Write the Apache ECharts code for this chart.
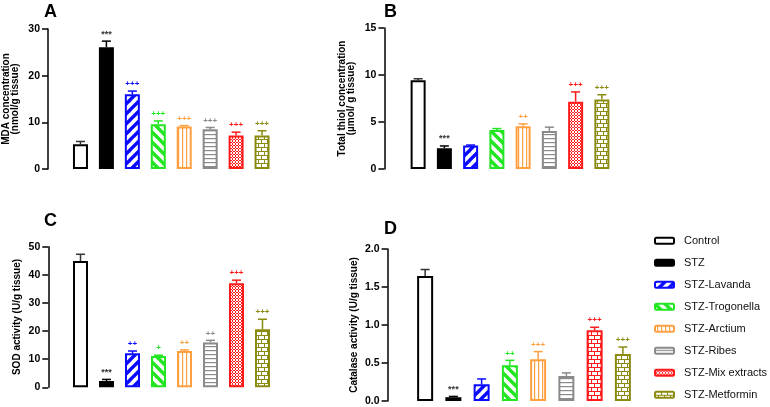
<!DOCTYPE html>
<html>
<head>
<meta charset="utf-8">
<script src="https://cdn.jsdelivr.net/npm/echarts@6/dist/echarts.min.js"></script>
<style>html,body{margin:0;padding:0;background:#fff}#c{width:770px;height:407px}</style>
</head>
<body>
<div id="c"></div>
<script>
// ---- data ----
const groups = ['Control','STZ','STZ-Lavanda','STZ-Trogonella','STZ-Arctium','STZ-Ribes','STZ-Mix extracts','STZ-Metformin'];

const mdaMean  = [5.3, 26.1, 16.0, 9.6, 9.1, 8.5, 7.2, 7.2];
const mdaSem   = [0.6, 1.3, 0.7, 0.7, 0.2, 0.4, 0.7, 1.0];
const mdaSig   = ['', '***', '+++', '+++', '+++', '+++', '+++', '+++'];

const thiolMean = [9.45, 2.2, 2.5, 4.15, 4.55, 4.05, 7.15, 7.4];
const thiolSem  = [0.15, 0.25, 0.05, 0.15, 0.25, 0.4, 1.05, 0.5];
const thiolSig  = ['', '***', '', '', '++', '', '+++', '+++'];

const sodMean = [44.9, 2.2, 12.1, 11.1, 12.9, 15.9, 37.0, 20.6];
const sodSem  = [2.4, 0.6, 0.8, 0.3, 0.4, 0.8, 1.1, 3.6];
const sodSig  = ['', '***', '++', '+', '++', '++', '+++', '+++'];

const catMean = [1.645, 0.05, 0.22, 0.47, 0.55, 0.33, 0.93, 0.62];
const catSem  = [0.085, 0.01, 0.07, 0.065, 0.1, 0.04, 0.04, 0.09];
const catSig  = ['', '***', '', '++', '+++', '', '+++', '+++'];

const yTicksA = [0, 30, 10];
const yTicksB = [0, 15, 5];
const yTicksC = [0, 50, 10];
const yTicksD = [0, 2, 0.5];

// ---- styles ----
const colors = ['#000000','#000000','#0a0aff','#22e622','#ffa040','#8a8a8a','#ff1a1a','#8b8b10'];
const errColors = ['#333333','#000000','#0a0aff','#22e622','#ffa040','#8a8a8a','#ff1a1a','#8b8b10'];
const FONT = 'Liberation Sans, Arial, sans-serif';

function makePattern(type, color) {
  const c = document.createElement('canvas');
  let ctx;
  if (type === 'fwd' || type === 'back') {
    const n = 10;
    c.width = n; c.height = n; ctx = c.getContext('2d');
    ctx.fillStyle = '#fff'; ctx.fillRect(0,0,n,n);
    ctx.strokeStyle = color; ctx.lineWidth = 3.4;
    const segs = type === 'fwd'
      ? [[-n/2,n/2,n/2,-n/2],[0,n,n,0],[n/2,1.5*n,1.5*n,n/2]]
      : [[-n/2,n/2,n/2,1.5*n],[0,0,n,n],[n/2,-n/2,1.5*n,n/2]];
    segs.forEach(s => { ctx.beginPath(); ctx.moveTo(s[0],s[1]); ctx.lineTo(s[2],s[3]); ctx.stroke(); });
  } else if (type === 'vert') {
    c.width = 4.5; c.height = 2; ctx = c.getContext('2d');
    ctx.fillStyle = '#fff'; ctx.fillRect(0,0,5,2);
    ctx.fillStyle = color; ctx.fillRect(2,0,1.2,2);
  } else if (type === 'horiz') {
    c.width = 2; c.height = 4.5; ctx = c.getContext('2d');
    ctx.fillStyle = '#fff'; ctx.fillRect(0,0,2,5);
    ctx.fillStyle = color; ctx.fillRect(0,2,2,1.2);
  } else if (type === 'dots') {
    c.width = 3; c.height = 3; ctx = c.getContext('2d');
    ctx.fillStyle = '#fff'; ctx.fillRect(0,0,3,3);
    ctx.fillStyle = color;
    ctx.fillRect(1,0,1,1); ctx.fillRect(0,1,1,1); ctx.fillRect(2,1,1,1); ctx.fillRect(1,2,1,1);
  } else if (type === 'brick') {
    c.width = 6; c.height = 8; ctx = c.getContext('2d');
    ctx.fillStyle = '#fff'; ctx.fillRect(0,0,6,8);
    ctx.fillStyle = color;
    ctx.fillRect(0,3,6,1); ctx.fillRect(0,7,6,1);
    ctx.fillRect(0,0,1,3); ctx.fillRect(3,4,1,3);
  }
  return { image: c, repeat: 'repeat' };
}

function fills(mixType) {
  return [
    '#ffffff',
    '#000000',
    makePattern('fwd', colors[2]),
    makePattern('back', colors[3]),
    makePattern('vert', colors[4]),
    makePattern('horiz', colors[5]),
    makePattern(mixType, colors[6]),
    makePattern('brick', colors[7])
  ];
}

const panels = [
  { mean: mdaMean, sem: mdaSem, sig: mdaSig, ticks: yTicksA, mix: 'dots',
    grid: {left: 67.5, top: 29, width: 207.5, height: 140}, offset: 19.5, barW: 15,
    name: 'MDA concentration\n(nmol/g tissue)', nameGap: 28.5, dec: 0 },
  { mean: thiolMean, sem: thiolSem, sig: thiolSig, ticks: yTicksB, mix: 'dots',
    grid: {left: 405, top: 28, width: 210, height: 141}, offset: 20.6, barW: 15,
    name: 'Total thiol concentration\n(µmol/ g tissue)', nameGap: 29, dec: 0 },
  { mean: sodMean, sem: sodSem, sig: sodSig, ticks: yTicksC, mix: 'dots',
    grid: {left: 67.5, top: 246.7, width: 208, height: 140.6}, offset: 19.2, barW: 15,
    name: 'SOD activity (U/g tissue)', nameGap: 27, dec: 0 },
  { mean: catMean, sem: catSem, sig: catSig, ticks: yTicksD, mix: 'brick',
    grid: {left: 411, top: 249, width: 226, height: 152}, offset: 23.4, barW: 16,
    name: 'Catalase activity (U/g tissue)', nameGap: 29.3, dec: 1 }
];

const grid = [], xAxis = [], yAxis = [], series = [];
panels.forEach((p, k) => {
  grid.push(Object.assign({ containLabel: false, outerBoundsMode: 'none' }, p.grid));
  xAxis.push({ gridIndex: k, type: 'category', data: groups, boundaryGap: true,
    axisLine: {show: false}, axisTick: {show: false}, axisLabel: {show: false}, splitLine: {show: false} });
  yAxis.push({ gridIndex: k, type: 'value', min: p.ticks[0], max: p.ticks[1], interval: p.ticks[2],
    offset: p.offset,
    axisLine: {show: true, lineStyle: {color: '#000', width: 1.5}},
    axisTick: {show: true, length: 6, lineStyle: {color: '#000', width: 1.5}},
    axisLabel: {color: '#000', fontWeight: 'bold', fontSize: 10.5, fontFamily: FONT, margin: 8,
      formatter: v => v.toFixed(p.dec)},
    splitLine: {show: false},
    name: p.name, nameLocation: 'middle', nameRotate: 90, nameGap: p.nameGap,
    nameTextStyle: {color: '#000', fontWeight: 'bold', fontSize: 10, fontFamily: FONT, lineHeight: 9} });
  const f = fills(p.mix);
  groups.forEach((g, i) => {
    series.push({
      type: 'bar', name: g, xAxisIndex: k, yAxisIndex: k,
      barWidth: p.barW, barGap: '-100%',
      itemStyle: { color: f[i], borderColor: colors[i], borderWidth: 2 },
      emphasis: {disabled: true},
      data: groups.map((_, j) => j === i ? p.mean[i] : '-'),
      z: 2
    });
  });
  series.push({
    type: 'custom', name: 'err' + k, xAxisIndex: k, yAxisIndex: k, z: 5,
    encode: {x: 0, y: 1},
    data: groups.map((_, i) => [i, p.mean[i], p.sem[i]]),
    renderItem: (params, api) => {
      const i = api.value(0), m = api.value(1), s = api.value(2);
      const p0 = api.coord([i, m]), p1 = api.coord([i, m + s]);
      const col = errColors[i];
      const children = [
        {type: 'line', shape: {x1: p0[0], y1: p0[1], x2: p1[0], y2: p1[1]}, style: {stroke: col, lineWidth: 1.5}},
        {type: 'line', shape: {x1: p1[0] - 4.5, y1: p1[1], x2: p1[0] + 4.5, y2: p1[1]}, style: {stroke: col, lineWidth: 1.5}}
      ];
      if (p.sig[i]) {
        const star = p.sig[i].indexOf('*') >= 0;
        children.push({type: 'text', style: {text: p.sig[i], x: p1[0], y: p1[1] - 7,
          align: 'center', verticalAlign: 'middle', fill: star ? '#333' : col,
          font: 'bold ' + (star ? 9 : 8) + 'px ' + FONT}});
      }
      return {type: 'group', children};
    }
  });
});

const titleStyle = {fontSize: 18, fontWeight: 'bold', fontFamily: FONT, color: '#000'};
const chart = echarts.init(document.getElementById('c'), null, {renderer: 'canvas'});
chart.setOption({
  animation: false,
  backgroundColor: '#fff',
  title: [
    {text: 'A', left: 44, top: 3.5, padding: 0, textStyle: titleStyle},
    {text: 'B', left: 384, top: 3, padding: 0, textStyle: titleStyle},
    {text: 'C', left: 44, top: 212.5, padding: 0, textStyle: titleStyle},
    {text: 'D', left: 384, top: 220, padding: 0, textStyle: titleStyle}
  ],
  legend: {
    data: groups, orient: 'vertical', left: 654, top: 233.7, padding: 0,
    itemWidth: 19, itemHeight: 6, itemGap: 8,
    selectedMode: false,
    textStyle: {fontSize: 11, fontFamily: FONT, color: '#111', lineHeight: 14, padding: [0, 0, 0, 5]}
  },
  grid, xAxis, yAxis, series
});
</script>
</body>
</html>
